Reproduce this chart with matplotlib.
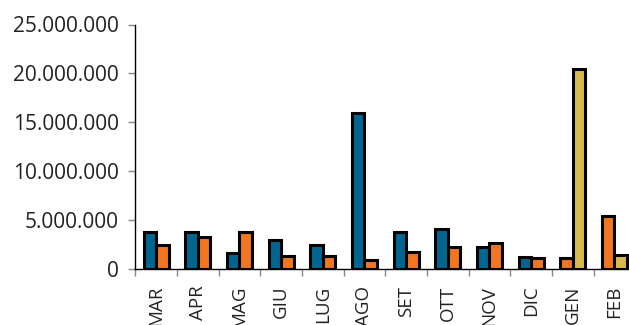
import matplotlib.pyplot as plt
import numpy as np

plt.rcParams['font.family'] = ['Open Sans', 'DejaVu Sans']

mesi = ['MAR', 'APR', 'MAG', 'GIU', 'LUG', 'AGO', 'SET', 'OTT', 'NOV', 'DIC', 'GEN', 'FEB']

# left and right bar of each month (values in euro)
sinistra = [3800000, 3750000, 1600000, 3000000, 2500000, 15900000,
            3800000, 4100000, 2300000, 1200000, 1150000, 5450000]
destra = [2500000, 3300000, 3800000, 1350000, 1300000, 950000,
          1700000, 2300000, 2700000, 1100000, 20500000, 1400000]

BLU = '#00668f'
ARANCIO = '#f07622'
ORO = '#d9b94d'
col_sinistra = [BLU] * 10 + [ARANCIO] * 2
col_destra = [ARANCIO] * 10 + [ORO] * 2

fig = plt.figure(figsize=(6.29, 3.25), dpi=100)
ax = fig.add_axes([135.3 / 629, 1 - 269 / 325, 500 / 629, (269 - 24.5) / 325])

x = np.arange(len(mesi))
w = 0.3
ax.bar(x - w / 2, sinistra, w, color=col_sinistra, edgecolor='black', linewidth=2.2)
ax.bar(x + w / 2, destra, w, color=col_destra, edgecolor='black', linewidth=2.2)

ax.set_xlim(-0.5, len(mesi) - 0.5)
ax.set_ylim(0, 25000000)
ax.set_yticks(np.arange(0, 25000001, 5000000))
ax.set_yticklabels(['{:,}'.format(v).replace(',', '.') for v in range(0, 25000001, 5000000)])

# ticks on the boundaries between months, labels in the middle
ax.set_xticks(np.arange(-0.5, len(mesi), 1))
ax.set_xticklabels([])
ax.set_xticks(x, minor=True)
ax.set_xticklabels(mesi, minor=True, rotation=90, va='top', ha='center')
ax.tick_params(axis='x', which='minor', length=0, pad=12, labelsize=13.5, labelcolor='#222222')
ax.tick_params(axis='x', which='major', length=5, width=1, color='#888888', direction='out')
ax.tick_params(axis='y', length=5, width=1, color='#888888', pad=7, labelsize=15, labelcolor='#222222')

ax.spines['top'].set_visible(False)
ax.spines['right'].set_visible(False)
ax.spines['left'].set_linewidth(1)
ax.spines['bottom'].set_linewidth(1)

fig.savefig('out.png', dpi=100)
